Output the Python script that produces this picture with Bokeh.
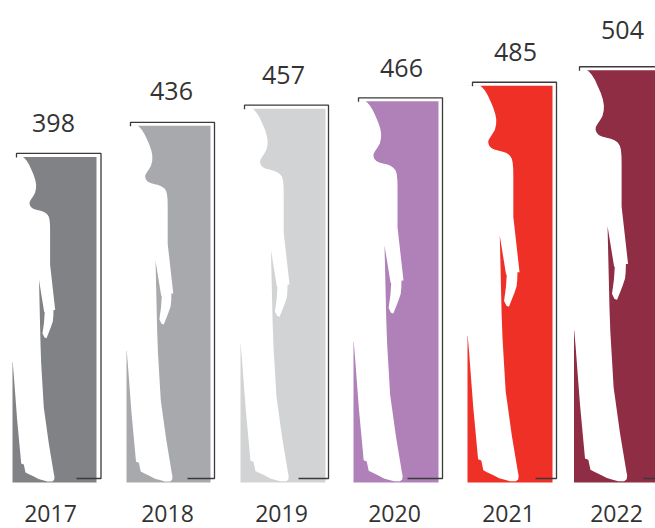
from bokeh.plotting import figure
from bokeh.models import Range1d
from bokeh.core.properties import value as val
from bokeh.embed import file_html
from bokeh.resources import INLINE

years = ["2017", "2018", "2019", "2020", "2021", "2022"]
values = [398, 436, 457, 466, 485, 504]
colors = ["#808285", "#a7a9ac", "#d1d3d4", "#b081b9", "#ef3026", "#8f2d45"]

# layout, in page pixels
bar_left = [12, 126, 240, 353, 467, 573.5]
bar_width = [84, 84, 85, 85, 85, 85]
bracket_left = [16, 130, 244, 358, 472, 579]
bracket_right = [100.5, 214, 328, 442, 556, 660]
tail_left = [76, 187, 298, 407, 535, 643]
year_x = [50, 167, 281, 394, 508, 616]
label_x = [53, 171, 283, 401, 515, 622]
label_gap = [30, 31, 30, 30, 30, 37]

outline_px = [
    (8, 156), (22, 156), (23.7, 157.4), (26, 160), (28.5, 164), (30.8, 169), (33, 174), (34.8, 179.5),
    (35.6, 184), (35.5, 188), (34.5, 192.5), (32.8, 195.5), (30.8, 198.5), (29.3, 201), (29, 203),
    (29.7, 205.5), (31.5, 207.5), (34, 208.7), (37, 209.5), (41, 210.5), (44, 211.7), (46.5, 213.5),
    (48.2, 216), (49, 219), (49.5, 224), (49.6, 230), (49.6, 264), (54.7, 309.5),
    (53, 309.5), (52.8, 316), (52.3, 321), (50.4, 326.6), (48.5, 331.5), (46, 337.7), (44, 337), (42, 333),
    (42.7, 328), (43.5, 322), (44.2, 312), (43.6, 311),
    (38.5, 279.6), (40, 343.6), (40.7, 363), (43.3, 407), (48.3, 443),
    (53.3, 473), (54, 476.5), (53.6, 479.5), (51.7, 481), (47, 481), (43.3, 480), (38, 478.5), (33.3, 476),
    (28, 473.5), (25, 472), (23.3, 464), (20.7, 463),
    (16.7, 420), (13.3, 375), (12.2, 362), (8, 360),
]

PX_PER_UNIT = 0.818
BASE_PX = 482
HEIGHT = 528
YEAR_BASELINE_PX = 513
H0 = 398 * PX_PER_UNIT
fig_fx = [(x - 12) / H0 for x, _ in outline_px]
fig_fy = [(BASE_PX - y) / H0 for _, y in outline_px]

FONT = "Open Sans"
TXT = "#333333"

p = figure(
    frame_width=655, frame_height=HEIGHT, output_backend="svg", toolbar_location=None,
    x_range=Range1d(0, 655), y_range=Range1d(-(HEIGHT - BASE_PX) / PX_PER_UNIT, BASE_PX / PX_PER_UNIT),
    min_border=0, min_border_left=0, min_border_right=0, min_border_top=0, min_border_bottom=0,
    outline_line_color=None, background_fill_color="white", border_fill_color="white",
)
p.grid.visible = False
p.axis.visible = False

p.vbar(x=[l + w / 2 for l, w in zip(bar_left, bar_width)], width=bar_width, bottom=0, top=values,
       fill_color=colors, line_color=None)

xs, ys = [], []
for l, v in zip(bar_left, values):
    h = v * PX_PER_UNIT
    xs.append([l + f * h for f in fig_fx])
    ys.append([min(f * v, v + 1.5) for f in fig_fy])
p.patches(xs, ys, fill_color="white", line_color=None)

bxs, bys = [], []
for bl, br, tl, v in zip(bracket_left, bracket_right, tail_left, values):
    top = v + 3.5 / PX_PER_UNIT
    bxs.append([bl, bl, br, br, tl])
    bys.append([top - 4 / PX_PER_UNIT, top, top, 4 / PX_PER_UNIT, 4 / PX_PER_UNIT])
p.multi_line(bxs, bys, line_color="#3a3a3c", line_width=1.3)

p.text(x=label_x, y=[v + 3.5 / PX_PER_UNIT + g / PX_PER_UNIT for v, g in zip(values, label_gap)],
       text=[str(v) for v in values], text_font=val(FONT), text_font_size="25px",
       text_color=TXT, text_align="center", text_baseline="alphabetic")

p.text(x=year_x, y=[-(YEAR_BASELINE_PX - BASE_PX) / PX_PER_UNIT] * len(years), text=years,
       text_font=val(FONT), text_font_size="23px",
       text_color=TXT, text_align="center", text_baseline="alphabetic")

open("out.html", "w").write(file_html(p, INLINE))
